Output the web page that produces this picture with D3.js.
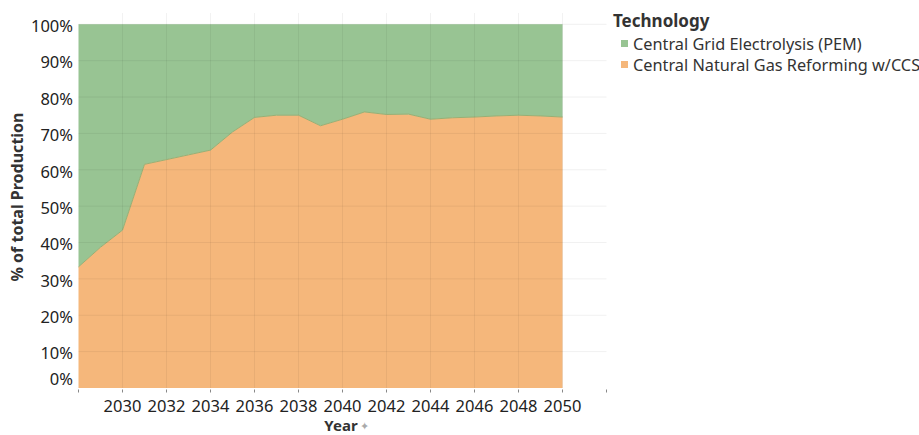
<!DOCTYPE html>
<html>
<head>
<meta charset="utf-8">
<script src="https://cdnjs.cloudflare.com/ajax/libs/d3/7.8.5/d3.min.js"></script>
<style>
  body { margin: 0; background: #fff; }
  svg { display: block; font-family: "Noto Sans", "Open Sans", sans-serif; }
</style>
</head>
<body>
<div id="chart"></div>
<script>
// Data___________________________________
const years = [2028, 2029, 2030, 2031, 2032, 2033, 2034, 2035, 2036, 2037, 2038, 2039,
               2040, 2041, 2042, 2043, 2044, 2045, 2046, 2047, 2048, 2049, 2050];
// % of total production
const gasCCS = [33.3, 38.7, 43.4, 61.5, 62.8, 64.1, 65.4, 70.4, 74.4, 75.0, 75.0, 72.1,
                73.9, 75.9, 75.2, 75.3, 73.9, 74.3, 74.5, 74.8, 75.0, 74.8, 74.5];
const gridPEM = [66.7, 61.3, 56.6, 38.5, 37.2, 35.9, 34.6, 29.6, 25.6, 25.0, 25.0, 27.9,
                 26.1, 24.1, 24.8, 24.7, 26.1, 25.7, 25.5, 25.2, 25.0, 25.2, 25.5];
const seriesNames = ['Central Natural Gas Reforming w/CCS', 'Central Grid Electrolysis (PEM)'];
const legendOrder = ['Central Grid Electrolysis (PEM)', 'Central Natural Gas Reforming w/CCS'];
const xTickYears = [2030, 2032, 2034, 2036, 2038, 2040, 2042, 2044, 2046, 2048, 2050];
const xGridYears = [2028, 2030, 2032, 2034, 2036, 2038, 2040, 2042, 2044, 2046, 2048, 2050, 2052];
const yTicks = [0, 0.1, 0.2, 0.3, 0.4, 0.5, 0.6, 0.7, 0.8, 0.9, 1];

// Layout_________________________________
const width = 919, height = 435;
const paneLeft = 78.5, paneRight = 606.5, paneTop = 13, paneBottom = 388;
const colors = {
    'Central Grid Electrolysis (PEM)': '#98c493',
    'Central Natural Gas Reforming w/CCS': '#f5b77b'
};

const rows = years.map((y, i) => ({
    year: y,
    'Central Natural Gas Reforming w/CCS': gasCCS[i],
    'Central Grid Electrolysis (PEM)': gridPEM[i]
}));

const stacked = d3.stack()
    .keys(seriesNames)
    .offset(d3.stackOffsetExpand)(rows);

const xScale = d3.scaleLinear().domain([2028, 2052]).range([paneLeft, paneRight]);
const yScale = d3.scaleLinear().domain([0, 1]).range([paneBottom, 24.3]);

const svg = d3.select('#chart').append('svg')
    .attr('width', width)
    .attr('height', height);

// Areas__________________________________
const area = d3.area()
    .x(d => xScale(d.data.year))
    .y0(d => yScale(d[0]))
    .y1(d => yScale(d[1]));

svg.append('g').selectAll('path')
    .data(stacked)
    .enter()
    .append('path')
    .attr('d', area)
    .attr('fill', d => colors[d.key]);

// border between the two areas
svg.append('path')
    .datum(stacked[0])
    .attr('d', d3.line().x(d => xScale(d.data.year)).y(d => yScale(d[1])))
    .attr('fill', 'none')
    .attr('stroke', '#9aae72')
    .attr('stroke-width', 1);

// Gridlines______________________________
svg.append('g').selectAll('line')
    .data(yTicks.slice(1))
    .enter()
    .append('line')
    .attr('x1', paneLeft).attr('x2', paneRight)
    .attr('y1', d => yScale(d)).attr('y2', d => yScale(d))
    .attr('stroke', 'rgba(0,0,0,0.06)');

svg.append('g').selectAll('line')
    .data(xGridYears.slice(1, -1))
    .enter()
    .append('line')
    .attr('x1', d => xScale(d)).attr('x2', d => xScale(d))
    .attr('y1', paneTop).attr('y2', paneBottom)
    .attr('stroke', 'rgba(0,0,0,0.05)');

// Axes___________________________________
const xAxis = svg.append('g')
    .attr('transform', `translate(0, ${paneBottom + 1.5})`);
xAxis.selectAll('line')
    .data(xGridYears)
    .enter()
    .append('line')
    .attr('x1', d => xScale(d)).attr('x2', d => xScale(d))
    .attr('y1', 0).attr('y2', 3)
    .attr('stroke', '#888');
xAxis.selectAll('text')
    .data(xTickYears)
    .enter()
    .append('text')
    .attr('x', d => xScale(d))
    .attr('y', 22)
    .attr('text-anchor', 'middle')
    .attr('font-size', '16.5px')
    .attr('fill', '#222')
    .text(d => d);

svg.append('text')
    .attr('x', 341)
    .attr('y', 431)
    .attr('text-anchor', 'middle')
    .attr('font-size', '15px')
    .attr('font-weight', 'bold')
    .attr('fill', '#333')
    .text('Year');
// little pin next to the axis title
svg.append('text')
    .attr('x', 364)
    .attr('y', 430)
    .attr('text-anchor', 'middle')
    .attr('font-size', '11px')
    .attr('fill', '#aaa')
    .text('✦');

svg.append('g').selectAll('text')
    .data(yTicks)
    .enter()
    .append('text')
    .attr('x', 73)
    .attr('y', d => d === 0 ? yScale(d) - 9 : yScale(d) + 2)
    .attr('dy', '0.35em')
    .attr('text-anchor', 'end')
    .attr('font-size', '16.5px')
    .attr('fill', '#222')
    .text(d => Math.round(d * 100) + '%');

svg.append('text')
    .attr('transform', 'translate(23, 197) rotate(-90)')
    .attr('text-anchor', 'middle')
    .attr('font-size', '16px')
    .attr('font-weight', 'bold')
    .attr('fill', '#333')
    .text('% of total Production');

// Legend_________________________________
const legend = svg.append('g')
    .attr('transform', 'translate(613, 0)');

legend.append('text')
    .attr('x', 0)
    .attr('y', 27)
    .attr('font-size', '17px')
    .attr('font-weight', 'bold')
    .attr('fill', '#333')
    .text('Technology');

legend.selectAll('rect')
    .data(legendOrder)
    .enter()
    .append('rect')
    .attr('x', 8)
    .attr('y', (d, i) => 40 + i * 21)
    .attr('width', 7)
    .attr('height', 7)
    .attr('fill', d => colors[d]);

legend.selectAll('text.item')
    .data(legendOrder)
    .enter()
    .append('text')
    .attr('class', 'item')
    .attr('x', 20)
    .attr('y', (d, i) => 44 + i * 21)
    .attr('dy', '0.35em')
    .attr('font-size', '16.3px')
    .attr('fill', '#333')
    .text(d => d);
</script>
</body>
</html>
